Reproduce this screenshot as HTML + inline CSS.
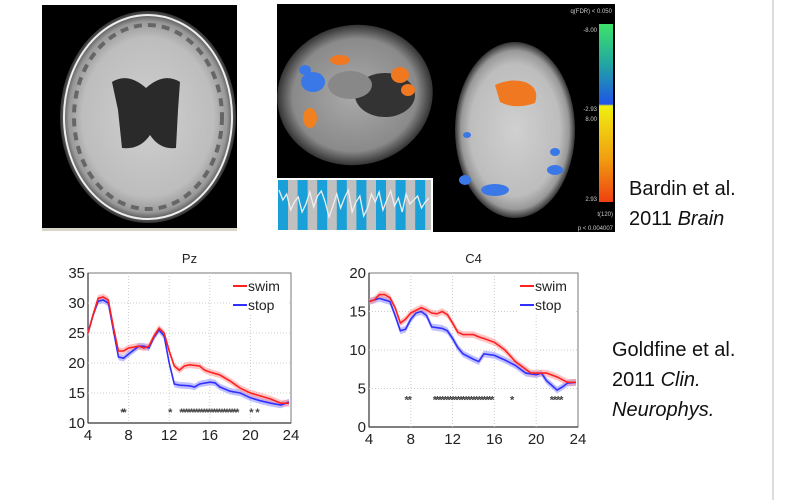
<!DOCTYPE html>
<html><head><meta charset="utf-8"><style>
html,body{margin:0;padding:0;background:#fff;width:800px;height:500px;overflow:hidden;font-family:"Liberation Sans",sans-serif}
.cap{position:absolute;font-size:20px;line-height:30px;color:#111}
</style></head><body>
<svg id="s" width="800" height="500" style="position:absolute;left:0;top:0">
  <defs>
    <radialGradient id="brainG" cx="50%" cy="50%" r="50%">
      <stop offset="0%" stop-color="#d0d0d0"/><stop offset="75%" stop-color="#bdbdbd"/><stop offset="90%" stop-color="#999"/><stop offset="100%" stop-color="#333"/>
    </radialGradient>
    <radialGradient id="brainG2" cx="50%" cy="50%" r="50%">
      <stop offset="0%" stop-color="#aaa"/><stop offset="80%" stop-color="#8a8a8a"/><stop offset="100%" stop-color="#333"/>
    </radialGradient>
    <linearGradient id="cbar" x1="0" y1="0" x2="0" y2="1">
      <stop offset="0%" stop-color="#3de36a"/><stop offset="22%" stop-color="#22a8a0"/><stop offset="45%" stop-color="#1f55e8"/><stop offset="46%" stop-color="#f0f010"/><stop offset="75%" stop-color="#f0a010"/><stop offset="100%" stop-color="#f04010"/>
    </linearGradient>
  </defs>
  <g>
    <rect x="42" y="5" width="195" height="223" fill="#000"/>
    <rect x="42" y="228" width="195" height="3" fill="#d8d4c8"/>
    <ellipse cx="148" cy="117" rx="88" ry="106" fill="url(#brainG)"/>
    <ellipse cx="148" cy="117" rx="84" ry="102" fill="none" stroke="#eee" stroke-width="2"/>
    <ellipse cx="148" cy="117" rx="74" ry="92" fill="none" stroke="#666" stroke-width="4" stroke-dasharray="8 6"/>
    <path d="M112 82 Q128 72 146 88 Q164 72 180 82 L178 110 L176 148 Q160 150 150 135 Q140 150 122 148 L118 110 Z" fill="#2a2a2a"/>
  </g>
  <g>
    <rect x="277" y="4" width="338" height="228" fill="#000"/>
    <ellipse cx="355" cy="95" rx="78" ry="70" fill="url(#brainG2)" transform="rotate(-10 355 95)"/>
    <ellipse cx="385" cy="95" rx="30" ry="22" fill="#333"/>
    <ellipse cx="350" cy="85" rx="22" ry="14" fill="#888"/>
    <ellipse cx="515" cy="130" rx="60" ry="88" fill="url(#brainG)"/>
    <path d="M495 85 Q510 78 525 82 Q540 88 535 103 Q515 110 500 102 Z" fill="#f07820"/>
    <ellipse cx="340" cy="60" rx="10" ry="5" fill="#f07820"/>
    <ellipse cx="400" cy="75" rx="9" ry="8" fill="#f07820"/>
    <ellipse cx="408" cy="90" rx="7" ry="6" fill="#f07820"/>
    <ellipse cx="310" cy="118" rx="7" ry="10" fill="#f08020"/>
    <ellipse cx="313" cy="82" rx="12" ry="10" fill="#3a78e8"/>
    <ellipse cx="305" cy="70" rx="6" ry="5" fill="#3a78e8"/>
    <ellipse cx="495" cy="190" rx="14" ry="6" fill="#3a78e8"/>
    <ellipse cx="555" cy="170" rx="8" ry="5" fill="#3a78e8"/>
    <ellipse cx="465" cy="180" rx="6" ry="5" fill="#3a78e8"/>
    <ellipse cx="467" cy="135" rx="4" ry="3" fill="#3a78e8"/>
    <ellipse cx="555" cy="152" rx="5" ry="4" fill="#3a78e8"/>
    <rect x="599" y="24" width="14" height="178" fill="url(#cbar)"/>
    <text x="612" y="13" font-size="6" fill="#ccc" text-anchor="end">q(FDR) &lt; 0.050</text>
    <text x="597" y="32" font-size="6" fill="#ccc" text-anchor="end">-8.00</text>
    <text x="597" y="111" font-size="6" fill="#ccc" text-anchor="end">-2.93</text>
    <text x="597" y="121" font-size="6" fill="#ccc" text-anchor="end">8.00</text>
    <text x="597" y="201" font-size="6" fill="#ccc" text-anchor="end">2.93</text>
    <text x="613" y="216" font-size="6" fill="#ccc" text-anchor="end">t(120)</text>
    <text x="613" y="230" font-size="6" fill="#ccc" text-anchor="end">p &lt; 0.004007</text>
    <g id="wave">
      <rect x="277" y="178" width="156" height="54" fill="#fff"/>
      <rect x="278" y="180" width="153" height="50" fill="#c0c0c0"/>
    </g>
  </g>
  <line x1="773" y1="0" x2="773" y2="500" stroke="#ddd" stroke-width="2"/>
  <g id="c1"></g>
  <g id="c2"></g>
</svg>
<div class="cap" style="left:629px;top:174px">Bardin et al.<br>2011 <i>Brain</i></div>
<div class="cap" style="left:612px;top:335px">Goldfine et al.<br>2011 <i>Clin.</i><br><i>Neurophys.</i></div>
<script>
const NS="http://www.w3.org/2000/svg";
const pzSwimX=[4,4.5,5,5.5,6,6.5,7,7.5,8,9,9.5,10,10.5,11,11.5,12,12.5,13,13.5,14,15,15.5,16,17,18,19,20,21,22,23,23.8];
const pzSwimY=[25,28,30.8,31,30.5,26,22,22,22.5,22.8,22.5,22.8,24.5,25.8,25,22,19.5,18.8,19.5,19.7,19.5,18.8,18.5,18,17,15.8,15,14.5,14,13.3,13.3];
const pzStopX=[4,4.5,5,5.5,6,6.5,7,7.5,8,9,9.5,10,10.5,11,11.5,12,12.5,13,14,14.5,15,16,16.5,17,18,19,20,21,22,23,23.8];
const pzStopY=[25,28,30.3,30.5,30,25.5,21,20.8,21.5,22.8,22.8,22.5,24.3,25.5,24.5,20,16.5,16.3,16.2,16,16.5,16.8,16.7,16,15.3,15,14.2,13.7,13.3,13,13.5];
const pzStars=[7.4,7.6,12.1,13.2,13.45,13.7,13.95,14.2,14.45,14.7,14.95,15.2,15.45,15.7,15.95,16.2,16.45,16.7,16.95,17.2,17.45,17.7,17.95,18.2,18.45,18.7,20.1,20.7];
const pzYTicks=[10,15,20,25,30,35];
const c4SwimX=[4,4.5,5,5.5,6,6.5,7,7.5,8,9,9.5,10,10.5,11,11.5,12,12.5,13,14,14.5,15,16,16.5,17,18,19,19.5,20,21,22,23,23.8];
const c4SwimY=[16.3,16.5,17.2,17.2,16.8,15.5,13.5,14,14.8,15.5,15.2,14.8,14.7,15,14.6,13.5,12.3,12,12,11.7,11.5,11,10.5,10,8.5,7.5,7,7,7,6.5,5.8,5.8];
const c4StopX=[4,5,6,6.5,7,7.5,8,8.5,9,9.5,10,11,11.5,12,12.5,13,14,14.5,15,16,17,18,19,20,20.5,21,22,22.5,23,23.8];
const c4StopY=[16.3,16.7,16.3,14.5,12.5,12.7,14,14.8,15,14.5,13,12.8,12.5,11.5,10.3,9.5,8.8,8.5,9.5,9.3,8.7,8,7,6.8,7,6,4.8,5.2,5.7,5.8];
const c4Stars=[7.6,7.9,10.3,10.55,10.8,11.05,11.3,11.55,11.8,12.05,12.3,12.55,12.8,13.05,13.3,13.55,13.8,14.05,14.3,14.55,14.8,15.05,15.3,15.55,15.8,17.7,21.5,21.8,22.1,22.4];
const c4YTicks=[0,5,10,15,20];
const xTicks=[4,8,12,16,20,24];

function el(p,t,a){const e=document.createElementNS(NS,t);for(const k in a)e.setAttribute(k,a[k]);p.appendChild(e);return e;}

(function(){
  const w=document.getElementById('wave');
  for(let i=0;i<8;i++){
    const r=el(w,'rect',{x:278+i*19.6,y:180,width:10,height:50,fill:'#1aa0d8'});
    
    
  }
  const wv=[8,18,12,28,20,15,30,22,10,25,14,9,20,35,24,12,26,16,8,30,20,14,34,26,12,20,10,28,18,9,24,16,30,12,22,18,14,26,20,16];
  let d='';wv.forEach((v,i)=>{d+=(i?'L':'M')+(279+i*3.85)+' '+(182+v);});
  const p=el(w,'path',{d:d,fill:'none',stroke:'#eee','stroke-width':1.3});
  
  
})();

function chart(gid,box,yMin,yMax,yTicks,title,swX,swY,stX,stY,stars,starY){
  const g=document.getElementById(gid);
  const X=v=>box.x0+(v-4)/(20)*(box.x1-box.x0);
  const Y=v=>box.y1-(v-yMin)/(yMax-yMin)*(box.y1-box.y0);
  el(g,'rect',{x:box.x0,y:box.y0,width:box.x1-box.x0,height:box.y1-box.y0,fill:'#fff',stroke:'#777','stroke-width':1});
  el(g,'line',{x1:box.x0,x2:box.x0,y1:box.y0,y2:box.y1,stroke:'#333','stroke-width':1.2});
  el(g,'line',{x1:box.x0,x2:box.x1,y1:box.y1,y2:box.y1,stroke:'#333','stroke-width':1.2});
  xTicks.forEach(t=>{
    if(t>4&&t<24){const l=el(g,'line',{x1:X(t),x2:X(t),y1:box.y0,y2:box.y1,stroke:'#ccc','stroke-dasharray':'1 2'});}
    const tx=el(g,'text',{x:X(t),y:box.y1+17,'font-size':15,'text-anchor':'middle',fill:'#222'});tx.textContent=t;
    
  });
  yTicks.forEach(t=>{
    if(t>yMin&&t<yMax){const l=el(g,'line',{x1:box.x0,x2:box.x1,y1:Y(t),y2:Y(t),stroke:'#ccc','stroke-dasharray':'1 2'});}
    const tx=el(g,'text',{x:box.x0-3,y:Y(t)+5,'font-size':15,'text-anchor':'end',fill:'#222'});tx.textContent=t;
    
  });
  const tt=el(g,'text',{x:(box.x0+box.x1)/2,y:box.y0-10,'font-size':13,'text-anchor':'middle',fill:'#222'});tt.textContent=title;
  
  const band=(xs,ys,w)=>{let a='',b='';xs.forEach((x,i)=>{a+=(i?'L':'M')+X(x)+' '+Y(ys[i]+w);});for(let i=xs.length-1;i>=0;i--)b+='L'+X(xs[i])+' '+Y(ys[i]-w);return a+b+'Z';};
  const line=(xs,ys)=>xs.map((x,i)=>(i?'L':'M')+X(x)+' '+Y(ys[i])).join('');
  const bw=(yMax-yMin)*0.022;
  const b1=el(g,'path',{d:band(stX,stY,bw),fill:'#8c8cff','fill-opacity':0.55});
  
  const b2=el(g,'path',{d:band(swX,swY,bw),fill:'#ff8c8c','fill-opacity':0.5});
  
  const l1=el(g,'path',{d:line(stX,stY),fill:'none',stroke:'#3030ff','stroke-width':1.6});
  
  const l2=el(g,'path',{d:line(swX,swY),fill:'none',stroke:'#ff2020','stroke-width':1.6});
  
  stars.forEach(s=>{const st=el(g,'text',{x:X(s),y:Y(starY)+5,'font-size':11,'text-anchor':'middle',fill:'#444','font-weight':'bold'});st.textContent='*';
    });
  const lx=box.x1-60,ly=box.y0+2;
  const lg=el(g,'g',{});
  
  el(lg,'rect',{x:lx,y:ly,width:58,height:40,fill:'#fff'});
  el(lg,'line',{x1:lx+2,x2:lx+16,y1:ly+11,y2:ly+11,stroke:'#ff2020','stroke-width':2});
  el(lg,'line',{x1:lx+2,x2:lx+16,y1:ly+30,y2:ly+30,stroke:'#3030ff','stroke-width':2});
  const e1=el(lg,'text',{x:lx+17,y:ly+16,'font-size':14,fill:'#222'});e1.textContent='swim';
  
  const e2=el(lg,'text',{x:lx+17,y:ly+35,'font-size':14,fill:'#222'});e2.textContent='stop';
  
}
chart('c1',{x0:88,x1:291,y0:273,y1:423},10,35,pzYTicks,'Pz',pzSwimX,pzSwimY,pzStopX,pzStopY,pzStars,12);
chart('c2',{x0:369,x1:578,y0:273,y1:427},0,20,c4YTicks,'C4',c4SwimX,c4SwimY,c4StopX,c4StopY,c4Stars,3.7);
</script>
</body></html>
